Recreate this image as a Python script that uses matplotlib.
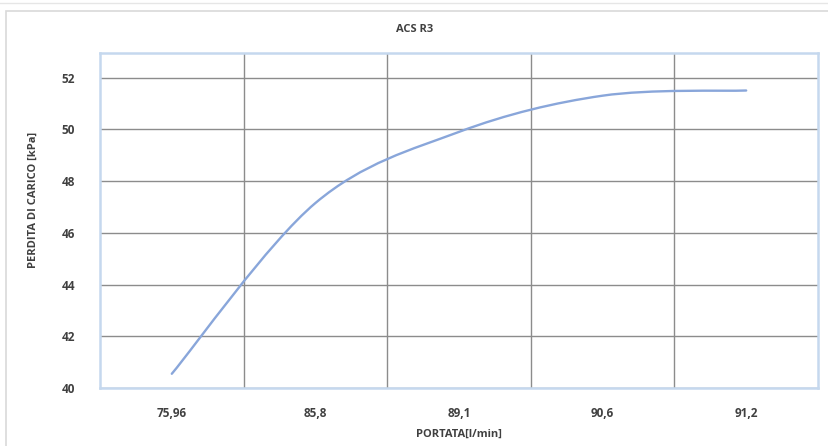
import matplotlib
matplotlib.use("Agg")
import matplotlib.pyplot as plt
from matplotlib.path import Path
from matplotlib.patches import PathPatch, Rectangle
from matplotlib.lines import Line2D

# data
categories = ["75,96", "85,8", "89,1", "90,6", "91,2"]
perdita = [40.55, 47.15, 49.9, 51.3, 51.5]
y_ticks = [40, 42, 44, 46, 48, 50, 52]

TEXT = "#404040"
GRID = "#8c8c8c"
FRAME = "#c5d8ee"
LINE = "#89a6da"


def smooth_path(xs, ys, t=1 / 6):
    """Excel-like smoothed line: cubic Bezier through every point."""
    pts = list(zip(xs, ys))
    n = len(pts)
    verts = [pts[0]]
    codes = [Path.MOVETO]
    for i in range(n - 1):
        p0 = pts[i - 1] if i > 0 else pts[i]
        p1 = pts[i]
        p2 = pts[i + 1]
        p3 = pts[i + 2] if i + 2 < n else pts[i + 1]
        c1 = (p1[0] + (p2[0] - p0[0]) * t, p1[1] + (p2[1] - p0[1]) * t)
        c2 = (p2[0] - (p3[0] - p1[0]) * t, p2[1] - (p3[1] - p1[1]) * t)
        verts += [c1, c2, p2]
        codes += [Path.CURVE4] * 3
    return Path(verts, codes)


fig = plt.figure(figsize=(8.29, 4.46), dpi=100)
ax = fig.add_axes([100 / 829, 58 / 446, 718 / 829, 335 / 446])

x = list(range(len(categories)))
ax.add_patch(PathPatch(smooth_path(x, perdita), facecolor="none",
                       edgecolor=LINE, lw=1.7, capstyle="round", zorder=3))

ax.set_xlim(-0.5, len(categories) - 0.5)
ax.set_ylim(40, 52.95)
ax.set_xticks(x)
ax.set_xticklabels(categories)
ax.set_xticks([i + 0.5 for i in x[:-1]], minor=True)
ax.set_yticks(y_ticks)
ax.tick_params(which="both", length=0)
ax.tick_params(axis="x", pad=14)
ax.tick_params(axis="y", pad=18)
for lab in ax.get_xticklabels() + ax.get_yticklabels():
    lab.set_fontweight("bold")
    lab.set_fontsize(8.5)
    lab.set_color(TEXT)
    lab.set_family("Open Sans")

ax.grid(True, axis="y", which="major", color=GRID, lw=1)
ax.grid(True, axis="x", which="minor", color=GRID, lw=1)
ax.set_axisbelow(True)
for s in ax.spines.values():
    s.set_color(FRAME)
    s.set_linewidth(1.8)

fig.text(415 / 829, 1 - 29 / 446, "ACS R3", ha="center", va="center",
         fontsize=8, fontweight="bold", color=TEXT, family="Open Sans")
fig.text(459 / 829, 1 - 434 / 446, "PORTATA[l/min]", ha="center", va="center",
         fontsize=8, fontweight="bold", color=TEXT, family="Open Sans")
fig.text(33 / 829, 1 - 200 / 446, "PERDITA DI CARICO [kPa]", ha="center",
         va="center", rotation=90, fontsize=8, fontweight="bold",
         color=TEXT, family="Open Sans")

# chart area border and top strip
fig.patches.append(Rectangle((6 / 829, -0.05), 1.0, 1 - 11 / 446 + 0.05,
                             transform=fig.transFigure, fill=False,
                             edgecolor="#d9d9d9", lw=1.2))
fig.lines.append(Line2D([0, 1], [1 - 3 / 446, 1 - 3 / 446],
                        transform=fig.transFigure, color="#e6e6e6", lw=1))

fig.savefig("out.png", dpi=100)
